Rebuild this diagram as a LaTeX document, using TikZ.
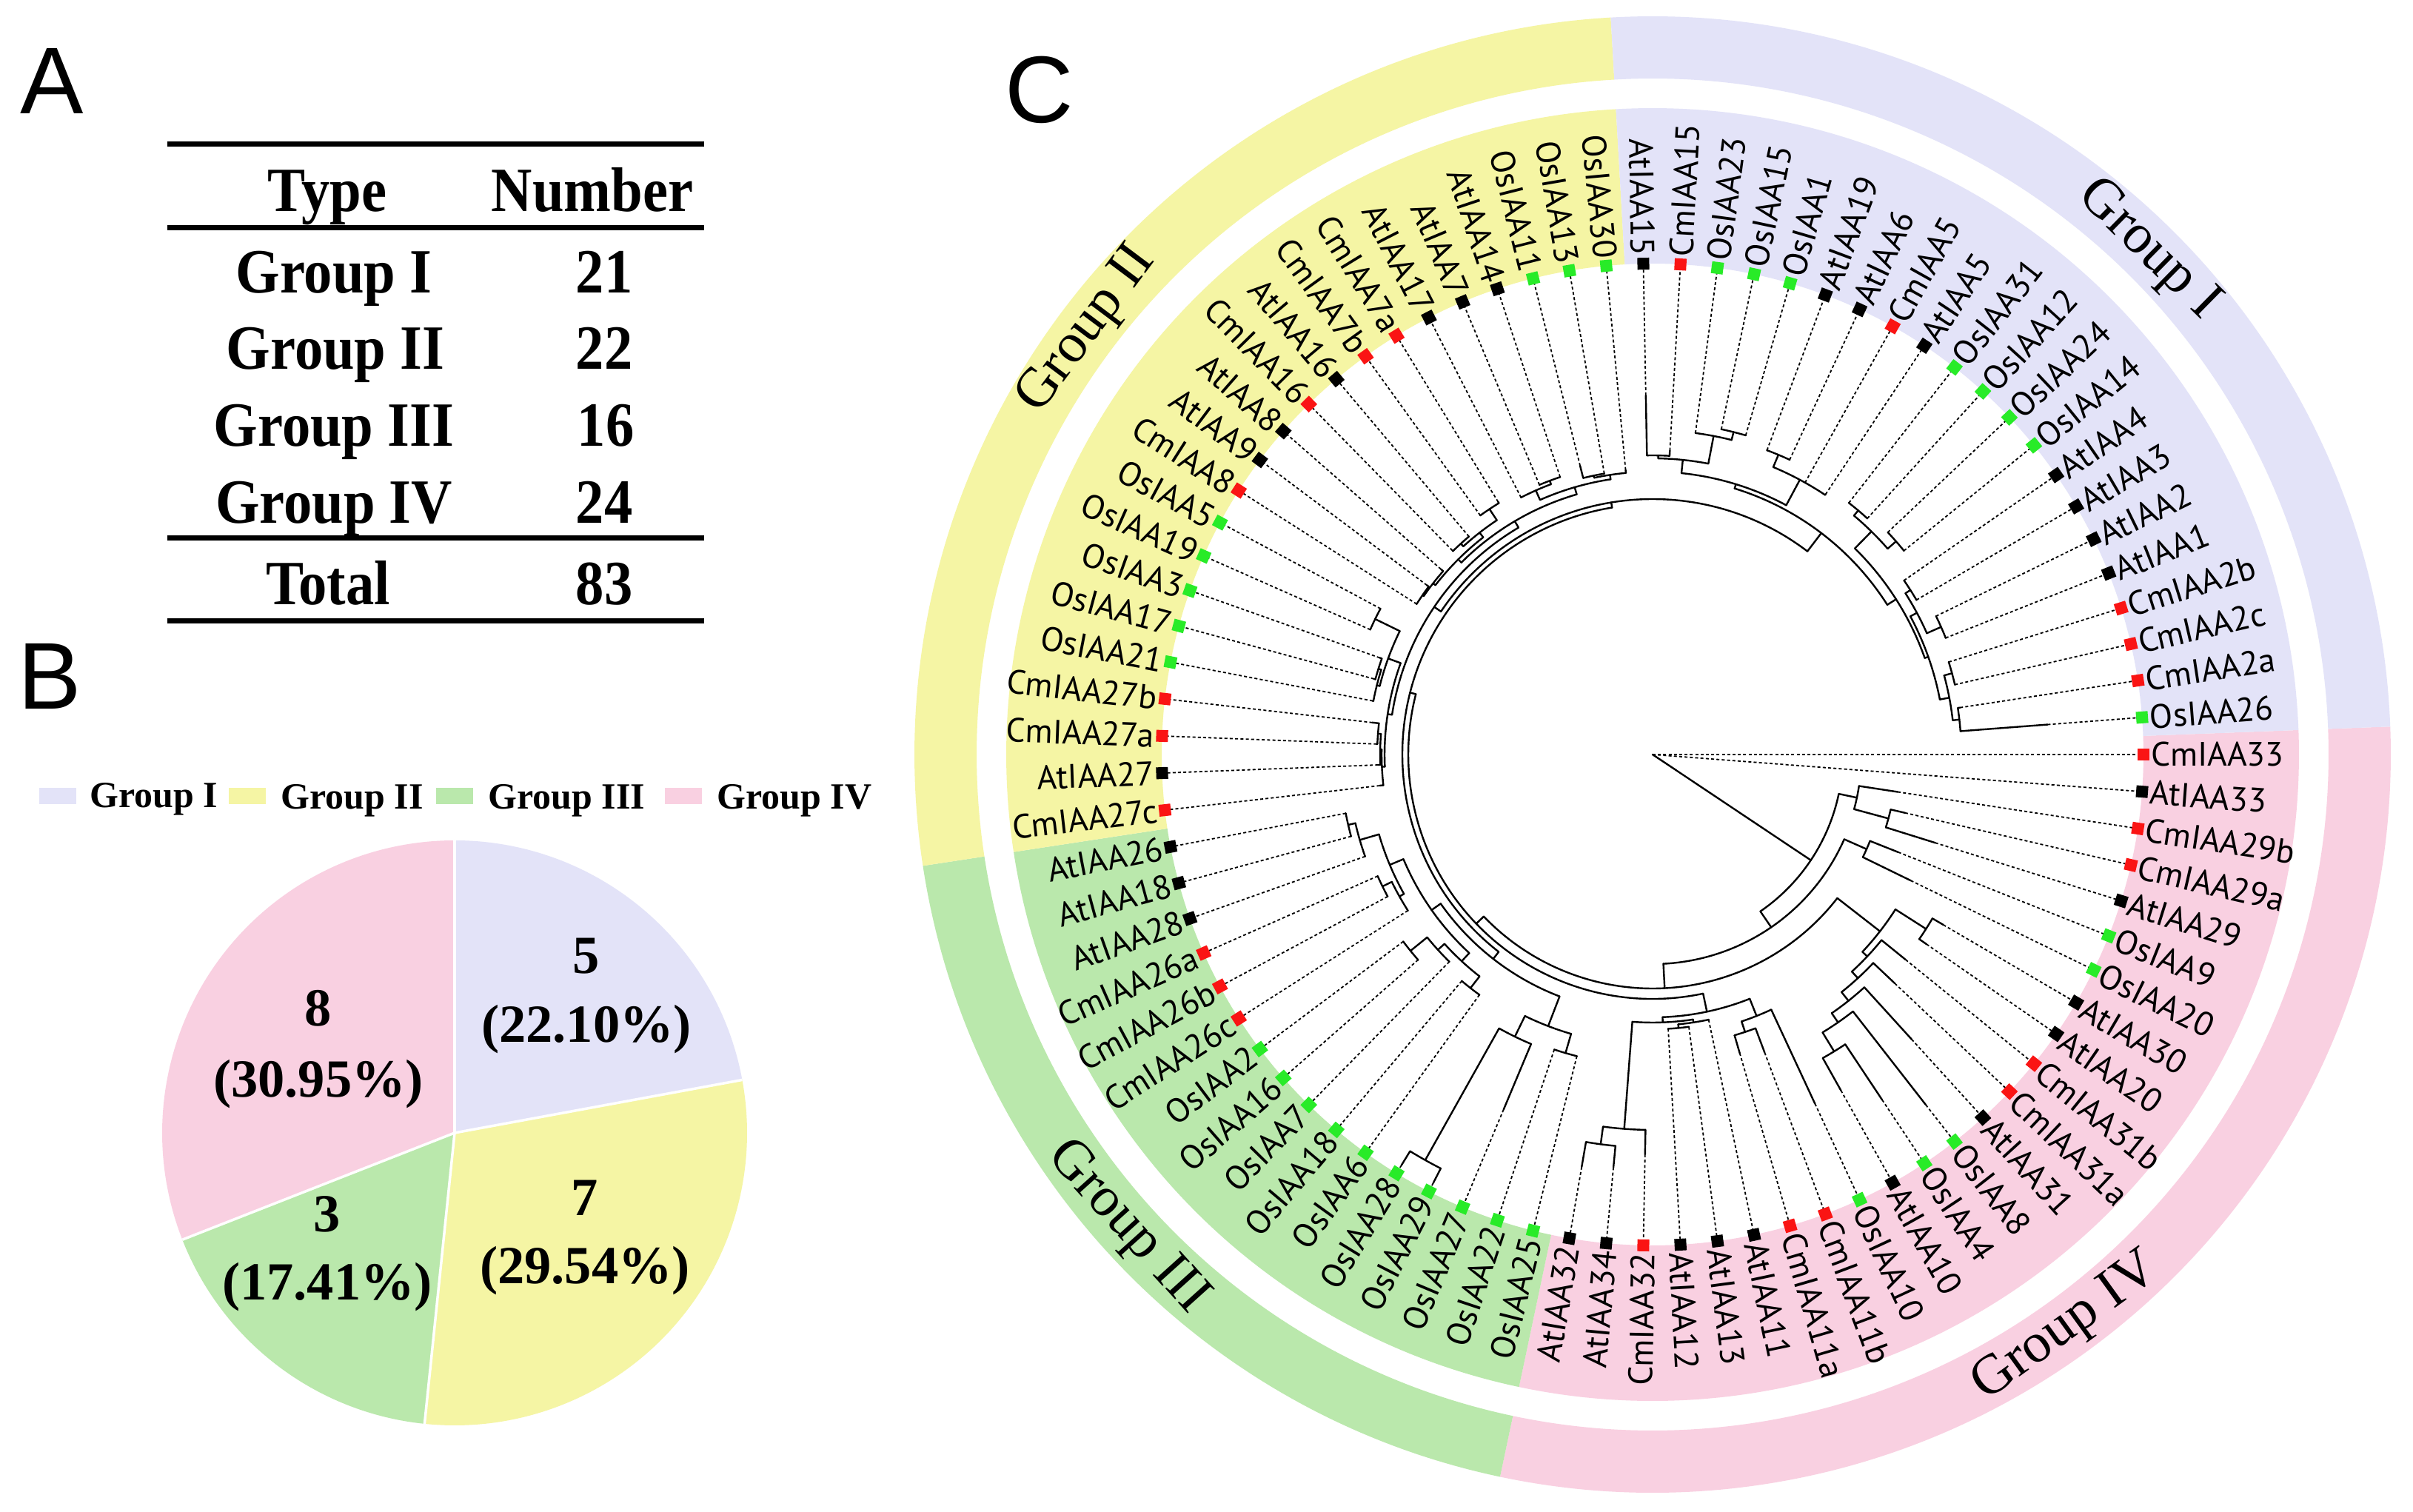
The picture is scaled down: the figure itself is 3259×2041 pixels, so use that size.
\documentclass[tikz,border=0pt]{standalone}
\usepackage{fontspec}
\setmainfont{Liberation Serif}
\newfontfamily\lblfont{PT Sans}
\newfontfamily\letfont{Liberation Sans}
\definecolor{cI}{RGB}{227,227,248}
\definecolor{cII}{RGB}{245,245,164}
\definecolor{cIII}{RGB}{186,232,172}
\definecolor{cIV}{RGB}{249,208,225}
\definecolor{mred}{RGB}{250,20,20}
\definecolor{mgreen}{RGB}{40,235,40}
\newcommand\Arcn[3]{\draw[br] ({-(#2-1)*4.3373494}:#1) arc[start angle={-(#2-1)*4.3373494}, end angle={-(#3-1)*4.3373494}, radius=#1];}
\newcommand\Rad[3]{\draw[br] ({-(#1-1)*4.3373494}:#2) -- ({-(#1-1)*4.3373494}:#3);}
\newcommand\Lf[3]{\draw[br] ({-(#1-1)*4.3373494}:#2) -- ({-(#1-1)*4.3373494}:#3);\draw[dl] ({-(#1-1)*4.3373494}:#3) -- (tip#1);}
\newcommand\Band[5]{\fill[#1] (#2:#4) arc[start angle=#2, end angle=#3, radius=#4] -- (#3:#5) arc[start angle=#3, end angle=#2, radius=#5] -- cycle;}
\begin{document}
\begin{tikzpicture}[x=0.01cm, y=0.01cm,
  br/.style={line width=0.024cm, line cap=round},
  dl/.style={line width=0.018cm, dash pattern=on 0.04cm off 0.032cm},
  mk/.style={rectangle, minimum size=0.16cm, inner sep=0pt, draw=none},
  lbl/.style={inner sep=0pt, font=\lblfont\fontsize{13}{14}\selectfont},
  grp/.style={inner sep=0pt, font=\fontsize{21.5}{24}\selectfont},
  tb/.style={inner sep=0pt, anchor=base, font=\bfseries\fontsize{24.2}{28}\selectfont},
  pl/.style={inner sep=0pt, anchor=base, font=\bfseries\fontsize{20.6}{22}\selectfont},
  lg/.style={inner sep=0pt, anchor=base west, font=\bfseries\fontsize{14.2}{16}\selectfont},
  sw/.style={rectangle, inner sep=0pt, minimum width=0.49cm, minimum height=0.22cm, draw=none},
  letter/.style={inner sep=0pt, anchor=base, font=\letfont\fontsize{36.4}{40}\selectfont}]
\useasboundingbox (0,0) rectangle (3259,2041);
\fill[white] (0,0) rectangle (3259,2041);

% ---------- panel letters
\node[letter] (A) at (70,1887) {A};
\node[letter] (B) at (67,1083) {B};
\node[letter] (C) at (1404,1875) {C};

% ---------- table A
\draw[line width=0.07cm] (226,1846) -- (951,1846);
\draw[line width=0.07cm] (226,1733.5) -- (951,1733.5);
\draw[line width=0.07cm] (226,1314) -- (951,1314);
\draw[line width=0.07cm] (226,1202) -- (951,1202);
\node[tb] (tType) at (442,1755) {\scalebox{0.9}[1]{Type}};
\node[tb] (tNum) at (800,1755) {\scalebox{0.9}[1]{Number}};
\node[tb] (tG1) at (451,1645) {\scalebox{0.9}[1]{Group I}};
\node[tb] (tN1) at (816,1645) {\scalebox{0.9}[1]{21}};
\node[tb] (tG2) at (453,1542) {\scalebox{0.9}[1]{Group II}};
\node[tb] (tN2) at (816,1542) {\scalebox{0.9}[1]{22}};
\node[tb] (tG3) at (451,1438) {\scalebox{0.9}[1]{Group III}};
\node[tb] (tN3) at (818,1438) {\scalebox{0.9}[1]{16}};
\node[tb] (tG4) at (451,1334) {\scalebox{0.9}[1]{Group IV}};
\node[tb] (tN4) at (816,1334) {\scalebox{0.9}[1]{24}};
\node[tb] (tT) at (443,1224.5) {\scalebox{0.9}[1]{Total}};
\node[tb] (tNT) at (816,1224.5) {\scalebox{0.9}[1]{83}};

% ---------- legend B
\node[sw, fill=cI] (s1) at (78,966) {};
\node[lg] (lg1) at (121,950) {Group I};
\node[sw, fill=cII] (s2) at (334,966) {};
\node[lg] (lg2) at (379,948) {Group II};
\node[sw, fill=cIII] (s3) at (614,966) {};
\node[lg] (lg3) at (659,948) {Group III};
\node[sw, fill=cIV] (s4) at (923,966) {};
\node[lg] (lg4) at (968,948) {Group IV};

% ---------- pie B
\begin{scope}[shift={(614,511)}]
\fill[cI] (0,0) -- (90:395) arc[start angle=90, end angle=10.44, radius=395] -- cycle;
\fill[cII] (0,0) -- (10.44:395) arc[start angle=10.44, end angle=-95.9, radius=395] -- cycle;
\fill[cIII] (0,0) -- (-95.9:395) arc[start angle=-95.9, end angle=-158.58, radius=395] -- cycle;
\fill[cIV] (0,0) -- (-158.58:395) arc[start angle=-158.58, end angle=-270, radius=395] -- cycle;
\foreach \a in {90,10.44,-95.9,-158.58} \draw[white, line width=0.035cm] (0,0) -- (\a:395);
\end{scope}
\node[pl] (p1a) at (792,726) {5};
\node[pl] (p1b) at (792,633.5) {(22.10\%)};
\node[pl] (p4a) at (430,656) {8};
\node[pl] (p4b) at (430,559.5) {(30.95\%)};
\node[pl] (p3a) at (442,378) {3};
\node[pl] (p3b) at (442,285.5) {(17.41\%)};
\node[pl] (p2a) at (790,400) {7};
\node[pl] (p2b) at (790,308) {(29.54\%)};

% ---------- tree C
\begin{scope}[shift={(2232,1022)}]
\Band{cIV}{2.169}{-101.928}{663}{873}
\Band{cIII}{-101.928}{-171.325}{663}{873}
\Band{cII}{-171.325}{-266.747}{663}{873}
\Band{cI}{-266.747}{-357.831}{663}{873}
\Band{cIV}{2.169}{-101.928}{913}{997}
\Band{cIII}{-101.928}{-171.325}{913}{997}
\Band{cII}{-171.325}{-266.747}{913}{997}
\Band{cI}{-266.747}{-357.831}{913}{997}
\node[grp, rotate=-44.5] (g1) at (45.5:955) {Group I};
\node[grp, rotate=53.1] (g2) at (143.1:955) {Group II};
\node[grp, rotate=-48] (g3) at (222:955) {Group III};
\node[grp, rotate=35.8] (g4) at (-54.2:955) {Group IV};

\foreach \i in {1,...,83} \coordinate (tip\i) at ({-(\i-1)*4.3373494}:663);

\Lf{1}{0}{0} \Lf{2}{0}{0}
\Rad{8.78}{0}{257}
\Arcn{257}{3.75}{13.8} \Rad{3.75}{257}{282} \Rad{13.8}{257}{283}
\Arcn{282}{3}{4.5} \Lf{3}{282}{335} \Rad{4.5}{282}{330}
\Arcn{330}{4}{5} \Lf{4}{330}{350} \Lf{5}{330}{400}
\Arcn{283}{6.5}{21.07} \Rad{6.5}{283}{316} \Rad{21.07}{283}{316}
\Arcn{316}{6}{7} \Lf{6}{316}{357} \Lf{7}{316}{388}
\Arcn{316}{9.73}{32.4} \Rad{9.73}{316}{389} \Rad{32.4}{316}{330}
\Arcn{389}{8.5}{10.97} \Rad{8.5}{389}{438} \Rad{10.97}{389}{398}
\Arcn{438}{8}{9} \Lf{8}{438}{455} \Lf{9}{438}{450}
\Arcn{398}{10}{11.94} \Lf{10}{398}{440} \Rad{11.94}{398}{410}
\Arcn{410}{11}{12.875} \Lf{11}{410}{450} \Rad{12.875}{410}{425}
\Arcn{425}{12}{13.75} \Lf{12}{425}{520} \Rad{13.75}{425}{440}
\Arcn{440}{13}{14.5} \Lf{13}{440}{600} \Rad{14.5}{440}{470}
\Arcn{470}{14}{15} \Lf{14}{470}{560} \Lf{15}{470}{520}
\Arcn{330}{19}{45.8} \Rad{19}{330}{355} \Rad{45.8}{330}{338}
\Arcn{355}{16.75}{21.25} \Rad{16.75}{355}{380} \Rad{21.25}{355}{362}
\Arcn{380}{16}{17.5} \Lf{16}{380}{520} \Rad{17.5}{380}{395}
\Arcn{395}{17}{18} \Lf{17}{395}{430} \Lf{18}{395}{420}
\Arcn{362}{19.75}{22.75} \Rad{19.75}{362}{366} \Rad{22.75}{362}{507}
\Arcn{366}{19}{20.5} \Lf{19}{366}{366} \Rad{20.5}{366}{371}
\Arcn{371}{20}{21} \Lf{20}{371}{371} \Lf{21}{371}{371}
\Arcn{507}{22}{23.5} \Lf{22}{507}{540} \Rad{23.5}{507}{531}
\Arcn{531}{23}{24} \Lf{23}{531}{560} \Lf{24}{531}{565}
\Arcn{338}{30.5}{61.1} \Rad{30.5}{338}{350} \Rad{61.1}{338}{345}
\Arcn{350}{26.6}{34.4} \Rad{26.6}{350}{393} \Rad{34.4}{350}{365}
\Arcn{393}{25.5}{27.75} \Rad{25.5}{393}{420} \Rad{27.75}{393}{424}
\Arcn{420}{25}{26} \Lf{25}{420}{420} \Lf{26}{420}{420}
\Arcn{424}{27}{28.5} \Lf{27}{424}{520} \Rad{28.5}{424}{628}
\Arcn{628}{28}{29} \Lf{28}{628}{650} \Lf{29}{628}{650}
\Arcn{365}{31.6}{37.25} \Rad{31.6}{365}{380} \Rad{37.25}{365}{385}
\Arcn{380}{30.5}{32.75} \Rad{30.5}{380}{400} \Rad{32.75}{380}{392}
\Arcn{400}{30}{31} \Lf{30}{400}{400} \Lf{31}{400}{400}
\Arcn{392}{32}{33.5} \Lf{32}{392}{392} \Rad{33.5}{392}{421}
\Arcn{421}{33}{34} \Lf{33}{421}{421} \Lf{34}{421}{421}
\Arcn{385}{35.75}{38.75} \Rad{35.75}{385}{392} \Rad{38.75}{385}{412}
\Arcn{392}{35}{36.5} \Lf{35}{392}{392} \Rad{36.5}{392}{406}
\Arcn{406}{36}{37} \Lf{36}{406}{406} \Lf{37}{406}{406}
\Arcn{412}{38}{39.5} \Lf{38}{412}{412} \Rad{39.5}{412}{422}
\Arcn{422}{39}{40} \Lf{39}{422}{422} \Lf{40}{422}{422}
\Arcn{345}{50.35}{71.85} \Rad{50.35}{345}{356} \Rad{71.85}{345}{376}
\Arcn{356}{44.5}{56.2} \Rad{44.5}{356}{362} \Rad{56.2}{356}{366}
\Arcn{362}{41.9}{47.1} \Rad{41.9}{362}{366} \Rad{47.1}{362}{380}
\Arcn{366}{41}{42.75} \Lf{41}{366}{371} \Rad{42.75}{366}{368}
\Arcn{368}{42}{43.5} \Lf{42}{368}{371} \Rad{43.5}{368}{372}
\Arcn{372}{43}{44} \Lf{43}{372}{373} \Lf{44}{372}{381}
\Arcn{380}{45.75}{48.5} \Rad{45.75}{380}{384} \Rad{48.5}{380}{417}
\Arcn{384}{45}{46.5} \Lf{45}{384}{385} \Rad{46.5}{384}{388}
\Arcn{388}{46}{47} \Lf{46}{388}{390} \Lf{47}{388}{391}
\Arcn{417}{48}{49} \Lf{48}{417}{417} \Lf{49}{417}{417}
\Arcn{366}{52.9}{59.5} \Rad{52.9}{366}{372} \Rad{59.5}{366}{376}
\Arcn{372}{51.25}{54.5} \Rad{51.25}{372}{376} \Rad{54.5}{372}{380}
\Arcn{376}{50.5}{52} \Rad{50.5}{376}{378} \Lf{52}{376}{380}
\Arcn{378}{50}{51} \Lf{50}{378}{378} \Lf{51}{378}{381}
\Arcn{380}{53.5}{55.5} \Rad{53.5}{380}{385} \Rad{55.5}{380}{398}
\Arcn{385}{53}{54} \Lf{53}{385}{386} \Lf{54}{385}{385}
\Arcn{398}{55}{56} \Lf{55}{398}{398} \Lf{56}{398}{400}
\Arcn{376}{57.75}{61.25} \Rad{57.75}{376}{390} \Rad{61.25}{376}{382}
\Arcn{390}{57}{58.5} \Lf{57}{390}{390} \Rad{58.5}{390}{395}
\Arcn{395}{58}{59} \Lf{58}{395}{395} \Lf{59}{395}{395}
\Arcn{382}{60.5}{62} \Rad{60.5}{382}{385} \Lf{62}{382}{386}
\Arcn{385}{60}{61} \Lf{60}{385}{402} \Lf{61}{385}{385}
\Arcn{376}{67.2}{76.5} \Rad{67.2}{376}{382} \Rad{76.5}{376}{390}
\Arcn{382}{64.6}{69.75} \Rad{64.6}{382}{400} \Rad{69.75}{382}{421}
\Arcn{400}{63.5}{65.75} \Rad{63.5}{400}{404} \Rad{65.75}{400}{438}
\Arcn{404}{63}{64} \Lf{63}{404}{485} \Lf{64}{404}{411}
\Arcn{438}{65}{66.5} \Lf{65}{438}{438} \Rad{66.5}{438}{449}
\Arcn{449}{66}{67} \Lf{66}{449}{449} \Lf{67}{449}{449}
\Arcn{421}{68.5}{71} \Rad{68.5}{421}{439} \Lf{70}{421}{421} \Lf{71}{421}{422}
\Arcn{439}{68}{69} \Lf{68}{439}{439} \Lf{69}{439}{439}
\Arcn{390}{73.5}{79.5} \Rad{73.5}{390}{422} \Rad{79.5}{390}{395}
\Arcn{422}{72.5}{74.5} \Rad{72.5}{422}{431} \Rad{74.5}{422}{437}
\Arcn{431}{72}{73} \Lf{72}{431}{431} \Lf{73}{431}{431}
\Arcn{437}{74}{75} \Lf{74}{437}{437} \Lf{75}{437}{437}
\Arcn{395}{77.5}{81.5} \Rad{77.5}{395}{405} \Rad{81.5}{395}{408}
\Arcn{405}{76.5}{78.5} \Rad{76.5}{405}{413} \Rad{78.5}{405}{426}
\Arcn{413}{76}{77} \Lf{76}{413}{413} \Lf{77}{413}{413}
\Arcn{426}{78}{79} \Lf{78}{426}{426} \Lf{79}{426}{426}
\Arcn{408}{80.5}{82.5} \Rad{80.5}{408}{419} \Rad{82.5}{408}{417}
\Arcn{419}{80}{81} \Lf{80}{419}{419} \Lf{81}{419}{419}
\Arcn{417}{82}{83} \Lf{82}{417}{420} \Lf{83}{417}{535}

\foreach \i/\nm/\cl in {1/CmIAA33/mred,2/AtIAA33/black,3/CmIAA29b/mred,4/CmIAA29a/mred,5/AtIAA29/black,6/OsIAA9/mgreen,7/OsIAA20/mgreen,8/AtIAA30/black,9/AtIAA20/black,10/CmIAA31b/mred,11/CmIAA31a/mred,12/AtIAA31/black,13/OsIAA8/mgreen,14/OsIAA4/mgreen,15/AtIAA10/black,16/OsIAA10/mgreen,17/CmIAA11b/mred,18/CmIAA11a/mred,19/AtIAA11/black,20/AtIAA13/black,21/AtIAA12/black,22/CmIAA32/mred,23/AtIAA34/black,24/AtIAA32/black,25/OsIAA25/mgreen,26/OsIAA22/mgreen,27/OsIAA27/mgreen,28/OsIAA29/mgreen,29/OsIAA28/mgreen,30/OsIAA6/mgreen,31/OsIAA18/mgreen,32/OsIAA7/mgreen,33/OsIAA16/mgreen,34/OsIAA2/mgreen,35/CmIAA26c/mred,36/CmIAA26b/mred,37/CmIAA26a/mred,38/AtIAA28/black,39/AtIAA18/black,40/AtIAA26/black,41/CmIAA27c/mred,42/AtIAA27/black,43/CmIAA27a/mred,44/CmIAA27b/mred,45/OsIAA21/mgreen,46/OsIAA17/mgreen,47/OsIAA3/mgreen,48/OsIAA19/mgreen,49/OsIAA5/mgreen,50/CmIAA8/mred,51/AtIAA9/black,52/AtIAA8/black,53/CmIAA16/mred,54/AtIAA16/black,55/CmIAA7b/mred,56/CmIAA7a/mred,57/AtIAA17/black,58/AtIAA7/black,59/AtIAA14/black,60/OsIAA11/mgreen,61/OsIAA13/mgreen,62/OsIAA30/mgreen,63/AtIAA15/black,64/CmIAA15/mred,65/OsIAA23/mgreen,66/OsIAA15/mgreen,67/OsIAA1/mgreen,68/AtIAA19/black,69/AtIAA6/black,70/CmIAA5/mred,71/AtIAA5/black,72/OsIAA31/mgreen,73/OsIAA12/mgreen,74/OsIAA24/mgreen,75/OsIAA14/mgreen,76/AtIAA4/black,77/AtIAA3/black,78/AtIAA2/black,79/AtIAA1/black,80/CmIAA2b/mred,81/CmIAA2c/mred,82/CmIAA2a/mred,83/OsIAA26/mgreen}{
  \pgfmathsetmacro\ang{-(\i-1)*4.3373494}
  \node[mk, fill=\cl, rotate=\ang] (m\i) at (tip\i) {};
  \ifnum\i<22
    \node[lbl, anchor=west, rotate=\ang] (l\i) at (\ang:673) {\nm};
  \else\ifnum\i<64
    \node[lbl, anchor=east, rotate=\ang+180] (l\i) at (\ang:673) {\nm};
  \else
    \node[lbl, anchor=west, rotate=\ang] (l\i) at (\ang:673) {\nm};
  \fi\fi
}
\end{scope}
\end{tikzpicture}
\end{document}
